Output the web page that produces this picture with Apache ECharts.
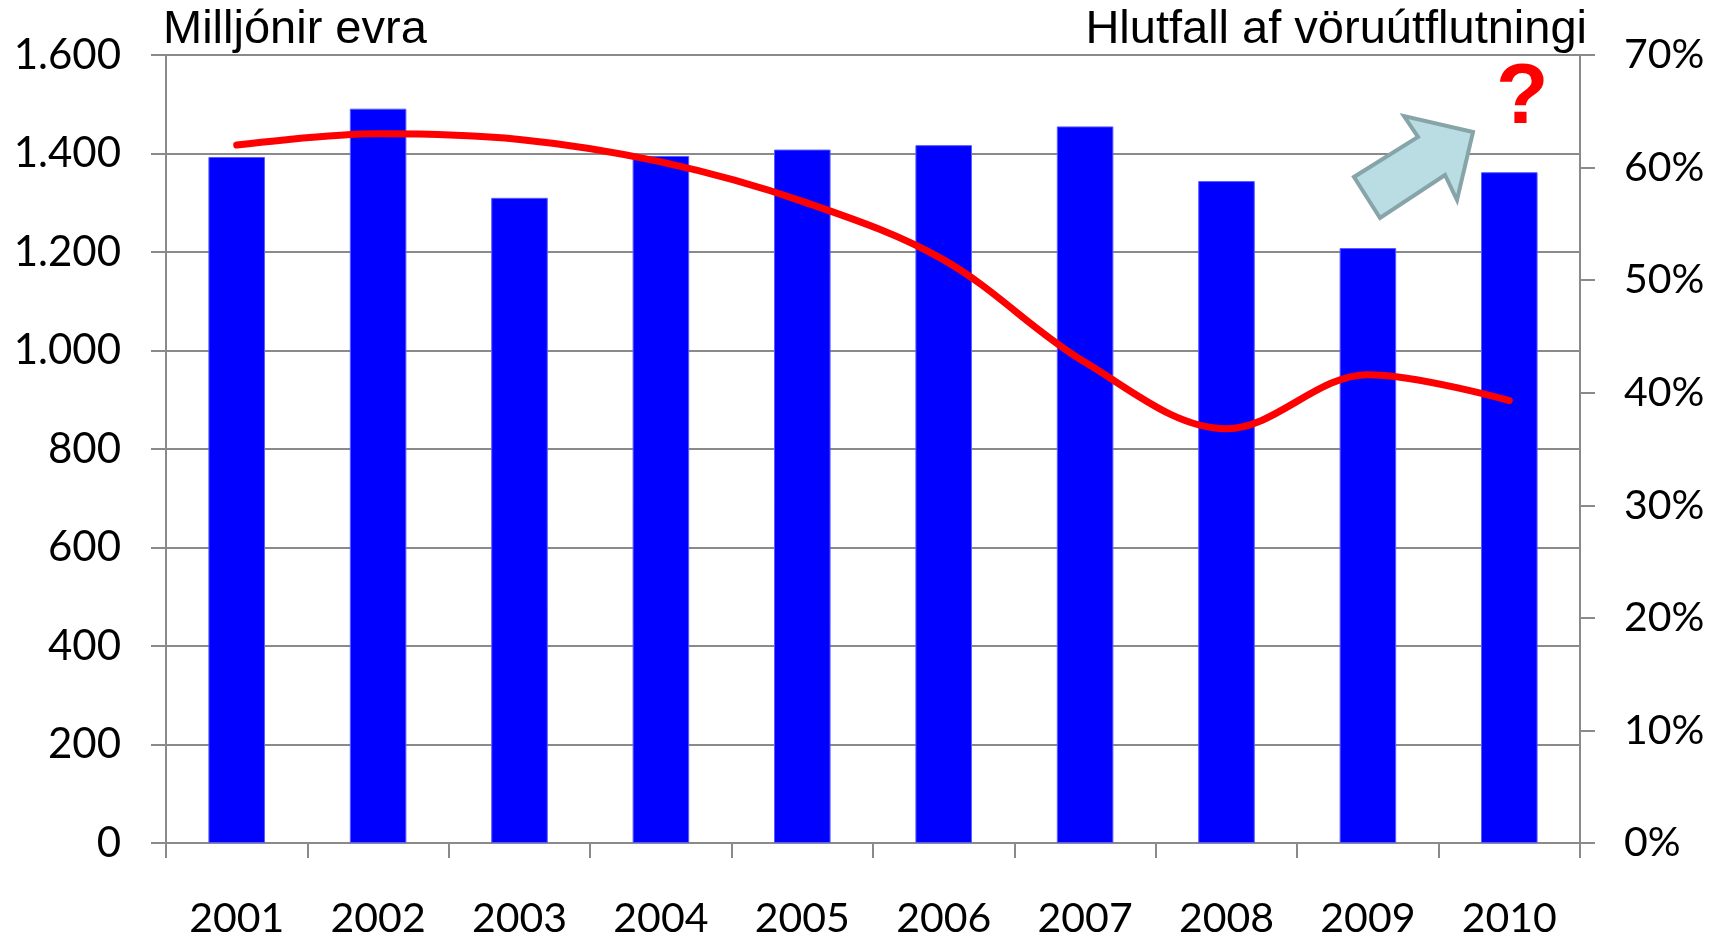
<!DOCTYPE html>
<html><head><meta charset="utf-8">
<script src="https://cdn.jsdelivr.net/npm/echarts@6/dist/echarts.min.js"></script>
<style>html,body{margin:0;padding:0;background:#fff}#c{width:1723px;height:940px}</style>
</head><body><div id="c"></div>
<script>
const years = ['2001','2002','2003','2004','2005','2006','2007','2008','2009','2010'];
const millionsEur = [1393, 1491, 1310, 1395, 1408, 1417, 1455, 1344, 1208, 1362];
const shareOfExports = [0.620, 0.630, 0.625, 0.605, 0.570, 0.518, 0.427, 0.368, 0.416, 0.393];
const leftTitle = 'Milljónir evra';
const rightTitle = 'Hlutfall af vöruútflutningi';

const numFont = 'Lato';
const gray = '#8a8a8a';
const chart = echarts.init(document.getElementById('c'), null, {renderer:'canvas'});
chart.setOption({
  animation:false,
  backgroundColor:'#fff',
  title:[
    {text:leftTitle, left:158, top:2, textStyle:{fontFamily:'Liberation Sans', fontSize:47, fontWeight:'normal', color:'#000'}},
    {text:rightTitle, right:131, top:2, textStyle:{fontFamily:'Liberation Sans', fontSize:47, fontWeight:'normal', color:'#000'}}
  ],
  grid:{left:166, right:143, top:55, bottom:97},
  xAxis:{type:'category', data:years, boundaryGap:true,
    axisLine:{lineStyle:{color:gray, width:2}},
    axisTick:{show:true, length:15, lineStyle:{color:gray, width:2}},
    axisLabel:{color:'#000', fontFamily:numFont, fontSize:41, margin:55}},
  yAxis:[
    {type:'value', min:0, max:1600, interval:200, position:'left',
     axisLine:{show:true, lineStyle:{color:gray, width:2}},
     axisTick:{show:true, length:15, lineStyle:{color:gray, width:2}},
     splitLine:{show:true, lineStyle:{color:gray, width:2}},
     axisLabel:{color:'#000', fontFamily:numFont, fontSize:42, margin:45,
       formatter:v=>String(v).replace(/\B(?=(\d{3})+(?!\d))/g,'.')}},
    {type:'value', min:0, max:0.7, interval:0.1, position:'right',
     axisLine:{show:true, lineStyle:{color:gray, width:2}},
     axisTick:{show:true, length:15, lineStyle:{color:gray, width:2}},
     splitLine:{show:false},
     axisLabel:{color:'#000', fontFamily:numFont, fontSize:41, margin:44,
       formatter:v=>Math.round(v*100)+'%'}}
  ],
  series:[
    {type:'bar', data:millionsEur, yAxisIndex:0, barWidth:'40%',
     itemStyle:{color:'#0000ff', borderColor:'#5a5aff', borderWidth:1}},
    {type:'line', data:shareOfExports, yAxisIndex:1, smooth:0.35, symbol:'none',
     lineStyle:{color:'#ff0000', width:7, cap:'round'}, z:5}
  ],
  graphic:[
    {type:'polygon', z:100,
     shape:{points:[[1473,132],[1404,116],[1418,137],[1354,177],[1380,218],[1445,175],[1457,200]]},
     style:{fill:'#b9dde3', stroke:'#87a5a8', lineWidth:4, lineJoin:'miter'}},
    {type:'text', z:100, left:1496, top:56,
     style:{text:'?', fill:'#ff0000', font:'bold 86px "Liberation Sans"'}}
  ]
});
</script></body></html>
